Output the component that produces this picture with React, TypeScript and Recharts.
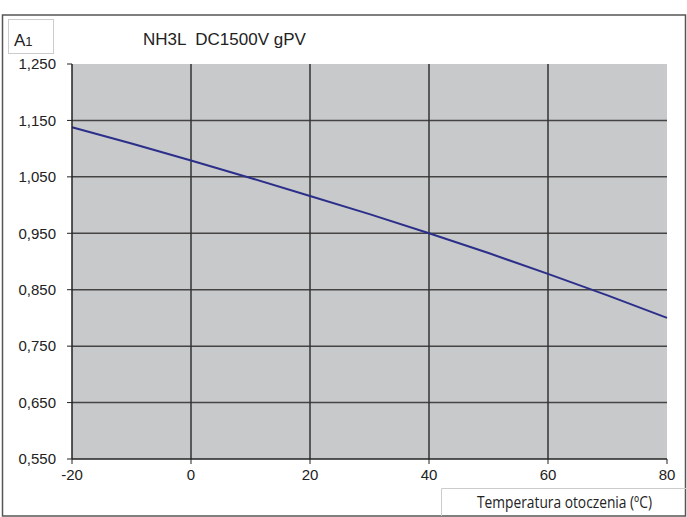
import { LineChart, Line, XAxis, YAxis, ReferenceLine, ReferenceArea } from 'recharts';

// temperatura otoczenia (°C) -> współczynnik A1
const temps = [-20, -10, 0, 10, 20, 30, 40, 50, 60, 70, 80];
const factors = [1.138, 1.109, 1.079, 1.048, 1.016, 0.984, 0.95, 0.915, 0.878, 0.84, 0.8];

const xTicks = [-20, 0, 20, 40, 60, 80];
const yTicks = [0.55, 0.65, 0.75, 0.85, 0.95, 1.05, 1.15, 1.25];
const xGrid = [0, 20, 40, 60];
const yGrid = [0.65, 0.75, 0.85, 0.95, 1.05, 1.15];

const data = temps.map((t, i) => ({ t, a: factors[i] }));

const font = '"Liberation Sans", Arial, sans-serif';
const fmt = (v: number) => v.toFixed(3).replace('.', ',');

export default function App() {
  return (
    <div style={{ position: 'absolute', left: 0, top: 0, width: 687, height: 517, background: '#fff' }}>
      <LineChart
        width={687}
        height={517}
        data={data}
        margin={{ top: 64, right: 20, bottom: 28, left: 0 }}
      >
        <ReferenceArea x1={-20} x2={80} y1={0.55} y2={1.25} fill="#c8c9cb" fillOpacity={1} stroke="none" />
        {yGrid.map((v) => (
          <ReferenceLine key={'y' + v} y={v} stroke="#444" strokeWidth={1.5} />
        ))}
        {xGrid.map((v) => (
          <ReferenceLine key={'x' + v} x={v} stroke="#333" strokeWidth={1.5} />
        ))}
        <XAxis
          dataKey="t"
          type="number"
          domain={[-20, 80]}
          ticks={xTicks}
          height={30}
          tickSize={5}
          tickMargin={5}
          stroke="#222"
          axisLine={{ stroke: '#222', strokeWidth: 1.5 }}
          tick={{ fill: '#222', fontSize: 15, fontFamily: font }}
        />
        <YAxis
          type="number"
          domain={[0.55, 1.25]}
          ticks={yTicks}
          width={72}
          tickSize={5}
          tickMargin={11}
          tickFormatter={fmt}
          stroke="#222"
          axisLine={{ stroke: '#222', strokeWidth: 1.5 }}
          tick={{ fill: '#222', fontSize: 15, fontFamily: font }}
        />
        <Line
          type="linear"
          dataKey="a"
          stroke="#2b2f8a"
          strokeWidth={2}
          dot={false}
          isAnimationActive={false}
        />
      </LineChart>
      <svg
        width={687}
        height={517}
        style={{ position: 'absolute', left: 0, top: 0, pointerEvents: 'none' }}
      >
        <rect x={2.5} y={15} width={683} height={501} fill="none" stroke="#555" strokeWidth={1.5} />
        <rect x={8.5} y={19.5} width={45} height={34} fill="none" stroke="#ccc" strokeWidth={1} />
        <text x={14} y={46} fontFamily={font} fontSize={17} fill="#222">
          A<tspan fontSize={13}>1</tspan>
        </text>
        <text x={143} y={45} fontFamily={font} fontSize={17} fill="#222" style={{ whiteSpace: 'pre' }}>
          NH3L  DC1500V gPV
        </text>
        <path d="M441.5 516 V488.5 H686" fill="none" stroke="#ccc" strokeWidth={1} />
        <text
          x={477}
          y={508}
          textLength={175}
          lengthAdjust="spacingAndGlyphs"
          fontFamily='"Open Sans", sans-serif'
          fontSize={17}
          fill="#222"
        >
          Temperatura otoczenia (ºC)
        </text>
      </svg>
    </div>
  );
}
